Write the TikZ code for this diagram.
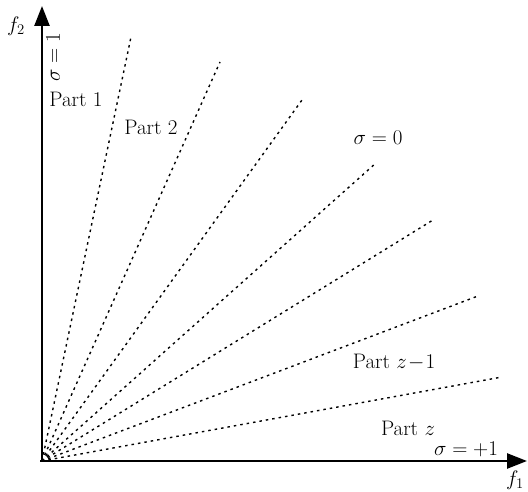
\RequirePackage{fix-cm}
\documentclass[tikz,border=0pt]{standalone}
\usetikzlibrary{arrows.meta}
\begin{document}
\begin{tikzpicture}[x=1pt,y=-1pt,
  axis/.style={line width=2.6pt,-{Triangle[length=20pt,width=15pt]}},
  ray/.style={line width=1.4pt,dash pattern=on 2.5pt off 4pt},
  lbl/.style={font=\fontsize{21}{24}\selectfont,inner sep=0pt}]
\useasboundingbox (0,0) rectangle (528,492);
\coordinate (O) at (42,461);
\coordinate (Ox) at (40,461);
\coordinate (Yt) at (42,6);
\coordinate (Xt) at (527,461);
\coordinate (e1) at (131,37);
\coordinate (e2) at (220,62);
\coordinate (e3) at (302,100);
\coordinate (e4) at (376,163);
\coordinate (e5) at (433,220);
\coordinate (e6) at (478,296);
\coordinate (e7) at (502,377);
\foreach \e in {e1,e2,e3,e4,e5,e6,e7} \draw[ray] (O) -- (\e);
\draw[axis] (O) -- (Yt);
\draw[axis] (Ox) -- (Xt);
\node[lbl] (f2) at (16,26) {$f_2$};
\node[lbl] (f1) at (515,480) {$f_1$};
\node[lbl,rotate=90] (s1) at (53,57) {$\sigma=1$};
\node[lbl] (p1) at (76,99) {Part 1};
\node[lbl] (p2) at (151,127) {Part 2};
\node[lbl] (s0) at (378,138) {$\sigma=0$};
\node[lbl] (pz1) at (394,362) {Part $z\!-\!1$};
\node[lbl] (pz) at (408,428) {Part $z$};
\node[lbl] (sp1) at (466,449) {$\sigma=+1$};
\end{tikzpicture}
\end{document}
